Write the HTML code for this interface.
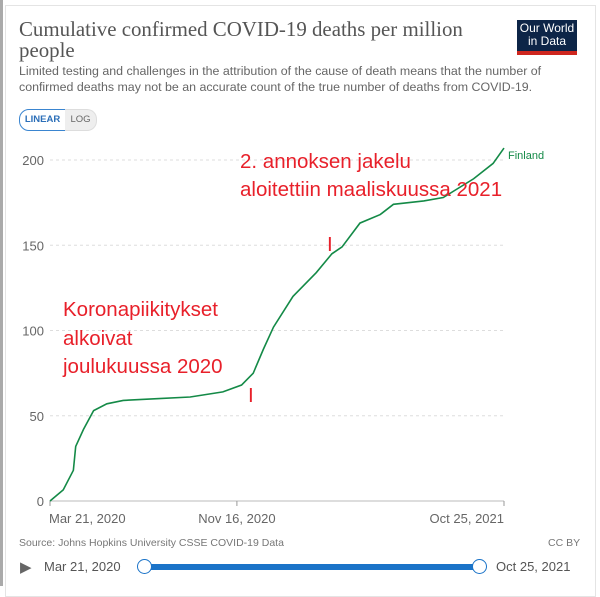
<!DOCTYPE html>
<html><head><meta charset="utf-8"><style>
body{margin:0;width:600px;height:586px;background:#fff;font-family:"Liberation Sans",sans-serif;overflow:hidden;position:relative}
#card{position:absolute;left:5px;top:5px;width:589px;height:590px;background:#fff;border:1px solid #e4e4e4}
.t{position:absolute;white-space:nowrap}
</style></head><body>
<div style="position:absolute;left:0;top:0;width:3px;height:586px;background:#aaa"></div>
<div id="card"></div>
<div class="t" style="left:19px;top:19px;font-family:'Liberation Serif',serif;font-size:20.9px;color:#555;line-height:21px">Cumulative confirmed COVID-19 deaths per million<br>people</div>
<div style="position:absolute;left:517px;top:20px;width:60px;height:35px;background:#0d2547;border-bottom:4px solid #ce261e;color:#fff;font-size:12px;line-height:13px;text-align:center;padding-top:2px;box-sizing:border-box">Our World<br>in Data</div>
<div class="t" style="left:19px;top:63px;font-size:12.4px;color:#666;line-height:16px">Limited testing and challenges in the attribution of the cause of death means that the number of<br>confirmed deaths may not be an accurate count of the true number of deaths from COVID-19.</div>
<div style="position:absolute;left:19px;top:109px;width:45px;height:20px;border:1px solid #3a85d0;border-radius:10px 0 0 10px;color:#2c6fb8;font-size:9.5px;font-weight:bold;line-height:20px;text-align:center">LINEAR</div>
<div style="position:absolute;left:65px;top:109px;width:31px;height:20px;border:1px solid #ddd;border-left:none;border-radius:0 10px 10px 0;background:#eee;color:#666;font-size:9.5px;line-height:20px;text-align:center">LOG</div>
<svg id="chart" width="600" height="586" style="position:absolute;left:0;top:0"></svg>
<div class="t" style="left:19px;top:537px;font-size:10.5px;color:#777">Source: Johns Hopkins University CSSE COVID-19 Data</div>
<div class="t" style="left:548px;top:537px;font-size:10.5px;color:#777">CC BY</div>
<div class="t" style="left:20px;top:558px;font-size:15px;color:#666">▶</div>
<div class="t" style="left:44px;top:559px;font-size:13px;color:#555">Mar 21, 2020</div>
<div class="t" style="left:496px;top:559px;font-size:13px;color:#555">Oct 25, 2021</div>
<div style="position:absolute;left:145px;top:564px;width:335px;height:6px;background:#1a73c8;border-radius:3px"></div>
<div style="position:absolute;left:137px;top:559px;width:13px;height:13px;border:1px solid #1a73c8;border-radius:50%;background:#fff"></div>
<div style="position:absolute;left:472px;top:559px;width:13px;height:13px;border:1px solid #1a73c8;border-radius:50%;background:#fff"></div>
<script>
const days=[0,17,30,33,43,56,73,94,137,180,222,246,261,274,287,312,342,362,375,398,424,441,480,505,544,569,583];
const values=[0,6.5,18,32,42,53,57,59,60,61,64,68,75,89,102,120,134,145,149,163,168,174,176,178,189,198,207];
const yTicks=[0,50,100,150,200];
const xTickDays=[0,240,583];
const xTickLabels=["Mar 21, 2020","Nov 16, 2020","Oct 25, 2021"];
const NS="http://www.w3.org/2000/svg",svg=document.getElementById('chart');
const X0=50,X1=504,Y0=501,Y1=160,DMAX=583,VMAX=200;
const xs=d=>X0+(X1-X0)*d/DMAX, ys=v=>Y0-(Y0-Y1)*v/VMAX;
function mk(tag,attrs){const e=document.createElementNS(NS,tag);for(const k in attrs)e.setAttribute(k,attrs[k]);svg.appendChild(e);return e;}
yTicks.forEach(v=>{
 const g=mk('line',{x1:X0,x2:X1,y1:ys(v),y2:ys(v),stroke:v===0?'#bbb':'#ddd','stroke-dasharray':v===0?'':'3,3'});
 
 
 const t=mk('text',{x:44,y:ys(v)+5,'text-anchor':'end','font-size':13,fill:'#666','font-family':'Liberation Sans,sans-serif'});t.textContent=v;
 
 
});
xTickDays.forEach((d,i)=>{
 const l=mk('line',{x1:xs(d),x2:xs(d),y1:Y0,y2:Y0+5,stroke:'#999'});
 
 
 const t=mk('text',{x:xs(d),y:523,'text-anchor':i===0?'start':(i===2?'end':'middle'),'font-size':13,fill:'#666','font-family':'Liberation Sans,sans-serif'});
 if(i===0)t.setAttribute('x',xs(d)-1);
 t.textContent=xTickLabels[i];
 
 
});
const p=mk('polyline',{points:days.map((d,i)=>xs(d)+','+ys(values[i])).join(' '),fill:'none',stroke:'#148a47','stroke-width':1.6});


const lb=mk('text',{x:xs(DMAX)+4,y:ys(values[values.length-1])+11,'font-size':11,fill:'#148a47','font-family':'Liberation Sans,sans-serif'});lb.textContent='Finland';


const ann=[[240,168,'2. annoksen jakelu'],[240,196,'aloitettiin maaliskuussa 2021'],[63,316,'Koronapiikitykset'],[63,345,'alkoivat'],[63,373,'joulukuussa 2020'],[248,402,'I'],[327,251,'I']];
ann.forEach(a=>{const t=mk('text',{x:a[0],y:a[1],'font-size':20.5,fill:'#e8202a','font-family':'Liberation Sans,sans-serif'});t.textContent=a[2];
 
 });
</script>
</body></html>
